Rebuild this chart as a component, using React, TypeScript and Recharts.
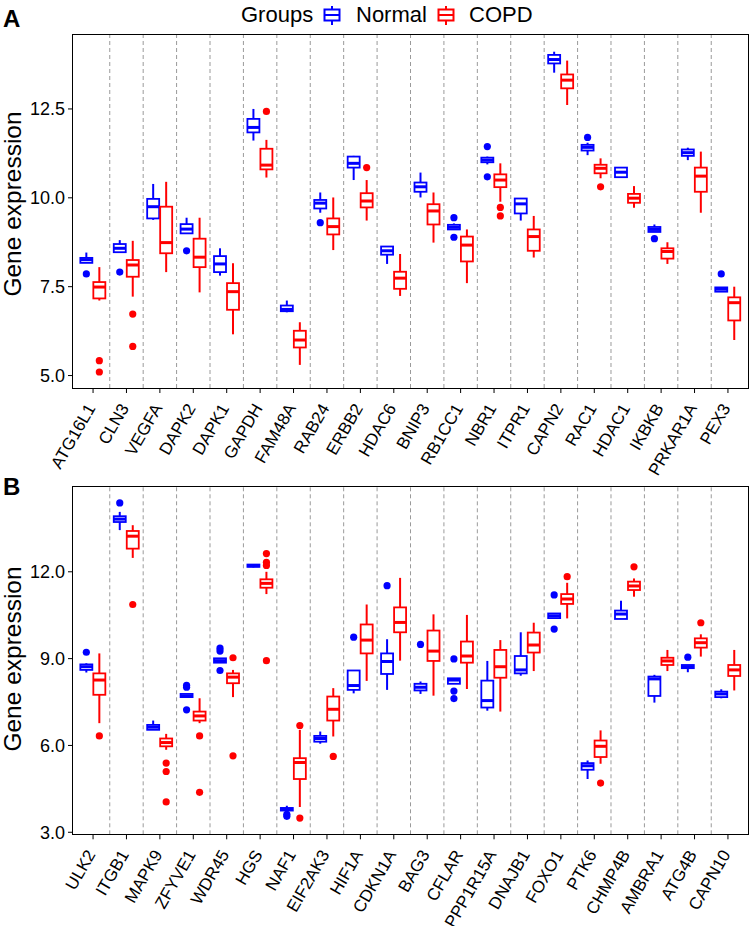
import { ComposedChart, Bar, XAxis, YAxis, ReferenceLine } from 'recharts'

const BLUE = '#0000FF'
const RED = '#FF0000'
const FONT = '"Liberation Sans", Arial, Helvetica, sans-serif'

// each box: [lower whisker, q1, median, q3, upper whisker]
type Stats = number[]

const genesA = ['ATG16L1', 'CLN3', 'VEGFA', 'DAPK2', 'DAPK1', 'GAPDH', 'FAM48A', 'RAB24', 'ERBB2', 'HDAC6',
  'BNIP3', 'RB1CC1', 'NBR1', 'ITPR1', 'CAPN2', 'RAC1', 'HDAC1', 'IKBKB', 'PRKAR1A', 'PEX3']

const normalA: Stats[] = [
  [8.17, 8.17, 8.26, 8.31, 8.46], [8.45, 8.47, 8.58, 8.70, 8.81], [9.38, 9.42, 9.75, 9.97, 10.39],
  [9.0, 9.0, 9.12, 9.26, 9.44], [7.81, 7.91, 8.14, 8.36, 8.58], [11.61, 11.84, 11.98, 12.22, 12.5],
  [6.78, 6.81, 6.86, 6.97, 7.11], [9.58, 9.70, 9.85, 9.94, 10.15], [10.50, 10.85, 10.97, 11.16, 11.18],
  [8.14, 8.40, 8.51, 8.63, 8.63], [10.01, 10.17, 10.31, 10.43, 10.71], [9.10, 9.11, 9.17, 9.24, 9.28],
  [10.94, 11.0, 11.06, 11.13, 11.16], [9.36, 9.56, 9.83, 9.98, 9.98], [13.52, 13.78, 13.89, 14.02, 14.11],
  [11.20, 11.33, 11.42, 11.49, 11.55], [10.58, 10.58, 10.72, 10.85, 10.85], [9.04, 9.04, 9.11, 9.18, 9.25],
  [11.06, 11.18, 11.27, 11.36, 11.41], [7.36, 7.36, 7.43, 7.48, 7.48],
]
const copdA: Stats[] = [
  [7.11, 7.17, 7.49, 7.63, 8.05], [7.22, 7.78, 8.11, 8.25, 8.79], [7.91, 8.44, 8.74, 9.75, 10.45],
  [7.34, 8.05, 8.33, 8.85, 9.44], [6.16, 6.85, 7.36, 7.60, 8.16], [10.57, 10.80, 10.92, 11.38, 11.63],
  [5.30, 5.79, 6.0, 6.26, 6.50], [8.53, 8.97, 9.19, 9.42, 10.01], [9.36, 9.73, 9.91, 10.13, 10.50],
  [7.24, 7.44, 7.74, 7.92, 8.42], [8.74, 9.25, 9.63, 9.82, 10.15], [7.60, 8.21, 8.67, 8.91, 9.11],
  [9.89, 10.30, 10.50, 10.66, 10.97], [8.32, 8.51, 8.91, 9.11, 9.49], [12.61, 13.08, 13.31, 13.47, 13.86],
  [10.55, 10.69, 10.83, 10.93, 11.11], [9.72, 9.86, 9.99, 10.11, 10.33], [8.14, 8.29, 8.49, 8.58, 8.75],
  [9.58, 10.17, 10.61, 10.85, 11.30], [6.0, 6.55, 7.05, 7.20, 7.50],
]
const normalOutA: number[][] = [
  [7.86], [7.91], [], [8.51], [], [], [], [9.30], [], [],
  [], [9.44, 8.89], [11.44, 10.59], [], [], [11.70], [], [8.85], [], [7.86],
]
const copdOutA: number[][] = [
  [5.42, 5.10], [6.73, 5.82], [], [], [], [12.43], [], [], [10.85], [],
  [], [], [9.73, 9.49], [], [], [10.31], [], [], [], [],
]

const genesB = ['ULK2', 'ITGB1', 'MAPK9', 'ZFYVE1', 'WDR45', 'HGS', 'NAF1', 'EIF2AK3', 'HIF1A', 'CDKN1A',
  'BAG3', 'CFLAR', 'PPP1R15A', 'DNAJB1', 'FOXO1', 'PTK6', 'CHMP4B', 'AMBRA1', 'ATG4B', 'CAPN10']

const normalB: Stats[] = [
  [8.52, 8.61, 8.72, 8.80, 8.84], [13.44, 13.72, 13.82, 13.92, 14.07], [6.54, 6.54, 6.63, 6.71, 6.86],
  [7.67, 7.67, 7.71, 7.78, 7.78], [8.86, 8.86, 8.93, 9.01, 9.01], [12.15, 12.17, 12.21, 12.25, 12.27],
  [3.75, 3.75, 3.80, 3.84, 3.92], [6.06, 6.13, 6.24, 6.33, 6.48], [7.80, 7.92, 8.07, 8.59, 8.59],
  [7.92, 8.47, 8.90, 9.18, 9.67], [7.78, 7.90, 8.01, 8.13, 8.21], [8.13, 8.13, 8.26, 8.32, 8.32],
  [7.20, 7.31, 7.55, 8.24, 8.92], [8.41, 8.49, 8.61, 9.09, 9.91], [10.40, 10.40, 10.48, 10.56, 10.56],
  [4.84, 5.16, 5.30, 5.39, 5.48], [10.37, 10.37, 10.54, 10.66, 11.0], [7.48, 7.71, 8.30, 8.38, 8.44],
  [8.53, 8.67, 8.72, 8.78, 8.78], [7.63, 7.67, 7.78, 7.86, 7.94],
]
const copdB: Stats[] = [
  [6.77, 7.75, 8.26, 8.49, 9.18], [12.48, 12.80, 13.23, 13.41, 13.61], [5.85, 5.97, 6.10, 6.24, 6.40],
  [6.77, 6.86, 7.02, 7.17, 7.63], [7.67, 8.15, 8.36, 8.49, 8.61], [11.23, 11.45, 11.60, 11.74, 12.0],
  [3.87, 4.84, 5.41, 5.56, 6.54], [6.31, 6.86, 7.25, 7.69, 7.98], [8.23, 9.18, 9.64, 10.18, 10.87],
  [8.93, 9.91, 10.25, 10.77, 11.79], [7.72, 8.92, 9.26, 9.97, 10.53], [7.95, 8.86, 9.09, 9.59, 10.51],
  [7.17, 8.34, 8.72, 9.30, 9.64], [8.57, 9.21, 9.47, 9.90, 10.24], [10.39, 10.89, 11.06, 11.23, 11.62],
  [5.37, 5.60, 5.97, 6.17, 6.52], [11.14, 11.37, 11.51, 11.66, 11.77], [8.57, 8.78, 8.92, 9.03, 9.30],
  [9.07, 9.38, 9.55, 9.70, 9.84], [7.90, 8.40, 8.61, 8.78, 9.30],
]
const normalOutB: number[][] = [
  [9.22], [14.38], [], [8.08, 8.01, 7.23], [9.36, 9.26, 8.59], [], [3.62, 3.55], [], [9.74], [11.52],
  [9.49], [8.99, 7.88, 7.62], [], [], [11.20, 10.02], [], [], [], [9.05], [],
]
const copdOutB: number[][] = [
  [6.33], [10.87], [5.39, 5.10, 4.05], [6.33, 4.38], [9.03, 5.64], [12.63, 12.33, 12.22, 8.93], [6.69, 3.49], [5.62], [], [],
  [], [], [], [], [11.83], [4.70], [12.17], [], [10.24], [],
]

const domainA = [4.65, 14.58]
const ticksA = [5, 7.5, 10, 12.5]
const domainB = [2.93, 14.94]
const ticksB = [3, 6, 9, 12]

function makeRows(genes: string[], normal: Stats[], copd: Stats[], nOut: number[][], cOut: number[][]) {
  return genes.map((gene, i) => {
    const nAll = [...normal[i], ...nOut[i]]
    const cAll = [...copd[i], ...cOut[i]]
    return {
      gene,
      nStats: normal[i],
      cStats: copd[i],
      nOut: nOut[i],
      cOut: cOut[i],
      nRange: [Math.min(...nAll), Math.max(...nAll)],
      cRange: [Math.min(...cAll), Math.max(...cAll)],
    }
  })
}

const rowsA = makeRows(genesA, normalA, copdA, normalOutA, copdOutA)
const rowsB = makeRows(genesB, normalB, copdB, normalOutB, copdOutB)

// box drawn inside the bar that spans the full range of the group
function boxShape(color: string, statsKey: string, outKey: string, rangeKey: string) {
  return (props: any) => {
    const { x, y, width, height, payload } = props
    const [lo, hi] = payload[rangeKey]
    const top = Math.min(y, y + height)
    const bottom = Math.max(y, y + height)
    const py = (v: number) => (hi === lo ? top : top + ((hi - v) / (hi - lo)) * (bottom - top))
    const [wlo, q1, med, q3, whi] = payload[statsKey]
    const cx = x + width / 2
    return (
      <g>
        <line x1={cx} x2={cx} y1={py(whi)} y2={py(q3)} stroke={color} strokeWidth={2} />
        <line x1={cx} x2={cx} y1={py(q1)} y2={py(wlo)} stroke={color} strokeWidth={2} />
        <rect x={x} y={py(q3)} width={width} height={Math.max(py(q1) - py(q3), 0.1)} fill="#fff" stroke={color} strokeWidth={1.8} />
        <line x1={x} x2={x + width} y1={py(med)} y2={py(med)} stroke={color} strokeWidth={3} />
        {payload[outKey].map((v: number, k: number) => (
          <circle key={k} cx={cx} cy={py(v)} r={3.6} fill={color} />
        ))}
      </g>
    )
  }
}

function GeneTick(props: any) {
  const { x, y, payload } = props
  const ax = x + 3
  const ay = y + 13
  return (
    <text x={ax} y={ay} transform={`rotate(-60 ${ax} ${ay})`} textAnchor="end" fontSize={17} fill="#000">
      {payload.value}
    </text>
  )
}

const PLOT_LEFT = 73
const PLOT_RIGHT = 748

function Panel({ rows, domain, ticks, top, height, marginTop, xHeight }: any) {
  const plotTop = marginTop
  const plotBottom = height - xHeight
  return (
    <div style={{ position: 'absolute', left: 0, top, width: 750, height }}>
      <ComposedChart width={750} height={height} data={rows} barGap={1}
        margin={{ top: marginTop, right: 750 - PLOT_RIGHT, bottom: 0, left: 0 }}>
        <XAxis dataKey="gene" interval={0} tick={<GeneTick />} tickSize={5} height={xHeight}
          padding={{ left: 3.34, right: 3.34 }} axisLine={false} stroke="#000" />
        <YAxis type="number" domain={domain} ticks={ticks} allowDataOverflow width={PLOT_LEFT} tickSize={5} tickMargin={3}
          tickFormatter={(v: number) => v.toFixed(1)} tick={{ fill: '#000', fontSize: 18 }}
          axisLine={false} stroke="#000" />
        {rows.slice(1).map((r: any) => (
          <ReferenceLine key={r.gene} x={r.gene} position="start" stroke="#9a9a9a" strokeDasharray="4 3" />
        ))}
        <Bar dataKey="nRange" barSize={12} isAnimationActive={false}
          shape={boxShape(BLUE, 'nStats', 'nOut', 'nRange')} />
        <Bar dataKey="cRange" barSize={12} isAnimationActive={false}
          shape={boxShape(RED, 'cStats', 'cOut', 'cRange')} />
      </ComposedChart>
      {/* panel frame */}
      <div style={{
        position: 'absolute', boxSizing: 'border-box', pointerEvents: 'none',
        left: PLOT_LEFT - 0.6, top: plotTop - 0.6,
        width: PLOT_RIGHT - PLOT_LEFT + 1.2, height: plotBottom - plotTop + 1.2,
        border: '1.2px solid #000',
      }} />
    </div>
  )
}

function LegendKey({ cx, color }: { cx: number; color: string }) {
  return (
    <g stroke={color} strokeWidth={2} fill="#fff">
      <line x1={cx} x2={cx} y1={6} y2={25} />
      <rect x={cx - 7.5} y={9.5} width={15} height={11} />
      <line x1={cx - 7.5} x2={cx + 7.5} y1={15} y2={15} />
    </g>
  )
}

export default function App() {
  return (
    <div style={{ position: 'absolute', left: 0, top: 0, width: 750, height: 926, background: '#fff', fontFamily: FONT, overflow: 'hidden' }}>
      <Panel rows={rowsA} domain={domainA} ticks={ticksA} top={0} height={490} marginTop={35} xHeight={102} />
      <Panel rows={rowsB} domain={domainB} ticks={ticksB} top={450} height={476} marginTop={36.7} xHeight={91.7} />
      <svg width={750} height={926} style={{ position: 'absolute', left: 0, top: 0, pointerEvents: 'none' }}
        fontFamily={FONT}>
        <text x={3} y={27} fontSize={24} fontWeight="bold">A</text>
        <text x={3} y={495} fontSize={24} fontWeight="bold">B</text>
        <text x={21} y={204} transform="rotate(-90 21 204)" textAnchor="middle" fontSize={24.5}>Gene expression</text>
        <text x={21} y={659} transform="rotate(-90 21 659)" textAnchor="middle" fontSize={24.5}>Gene expression</text>
        <text x={241} y={22} fontSize={22}>Groups</text>
        <LegendKey cx={332} color={BLUE} />
        <text x={356} y={22} fontSize={22}>Normal</text>
        <LegendKey cx={446} color={RED} />
        <text x={469} y={22} fontSize={22}>COPD</text>
      </svg>
    </div>
  )
}
